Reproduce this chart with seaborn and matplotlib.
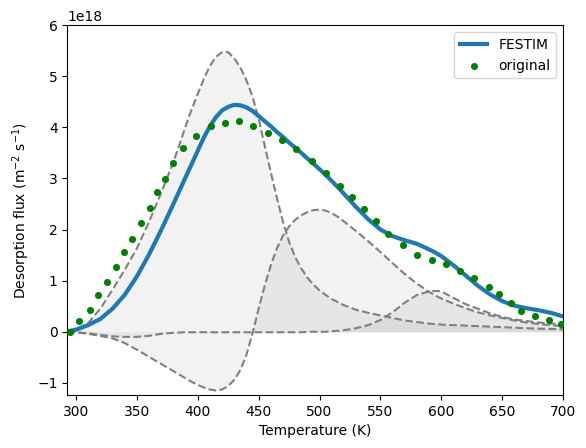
import numpy as np
import pandas as pd
import seaborn as sns
import matplotlib
matplotlib.use("Agg")
import matplotlib.pyplot as plt

# temperature grid for model curves (K), values below in units of 1e18
T_model = [293, 300, 310, 320, 330, 340, 350, 360, 370,
           380, 385, 390, 395, 400, 405, 410, 415, 420, 425, 430, 435, 440, 445, 450,
           455, 460, 465, 470, 475, 480, 485, 490, 495, 500, 505, 510, 515, 520,
           530, 540, 550, 560, 570, 580, 590, 595, 600, 610, 620, 630, 640, 650,
           660, 670, 680, 690, 700]

festim = [0.01, 0.04, 0.13, 0.25, 0.45, 0.72, 1.08, 1.51, 1.99,
          2.50, 2.76, 3.02, 3.28, 3.54, 3.80, 4.02, 4.20, 4.33, 4.40, 4.44, 4.43, 4.39, 4.32, 4.22,
          4.12, 4.02, 3.91, 3.81, 3.70, 3.60, 3.50, 3.39, 3.29, 3.18, 3.07, 2.95, 2.83, 2.70,
          2.44, 2.20, 2.00, 1.87, 1.79, 1.72, 1.61, 1.55, 1.48, 1.30, 1.10, 0.90, 0.73, 0.60,
          0.51, 0.46, 0.42, 0.37, 0.30]

peak_1 = [0.0, 0.03, 0.17, 0.45, 0.82, 1.21, 1.63, 2.15, 2.72,
          3.32, 3.66, 4.02, 4.35, 4.65, 4.95, 5.20, 5.38, 5.47, 5.47, 5.35, 5.17, 4.92, 4.60, 4.17,
          3.64, 3.12, 2.62, 2.15, 1.76, 1.46, 1.24, 1.06, 0.92, 0.81, 0.72, 0.64, 0.58, 0.52,
          0.43, 0.37, 0.32, 0.27, 0.22, 0.19, 0.16, 0.15, 0.14, 0.13, 0.12, 0.11, 0.10, 0.09,
          0.08, 0.07, 0.06, 0.055, 0.05]

peak_2 = [0.0, -0.01, -0.04, -0.08, -0.13, -0.22, -0.35, -0.49, -0.63,
          -0.77, -0.84, -0.91, -0.98, -1.04, -1.09, -1.13, -1.15, -1.13, -1.06, -0.94, -0.75, -0.45, -0.03, 0.45,
          0.90, 1.30, 1.63, 1.88, 2.06, 2.19, 2.28, 2.34, 2.38, 2.39, 2.37, 2.32, 2.25, 2.16,
          1.97, 1.77, 1.56, 1.34, 1.13, 0.94, 0.78, 0.71, 0.65, 0.55, 0.46, 0.38, 0.32, 0.27,
          0.22, 0.18, 0.15, 0.13, 0.11]

peak_3 = [0.0, -0.01, -0.03, -0.06, -0.09, -0.10, -0.10, -0.08, -0.04,
          -0.02, -0.015, -0.01, -0.01, -0.01, -0.01, -0.01, -0.01, -0.01, -0.01, -0.01, -0.01, -0.01, -0.01, -0.01,
          -0.01, -0.01, -0.01, -0.01, -0.01, -0.01, -0.01, 0.0, 0.0, 0.0, 0.0, 0.01, 0.02, 0.03,
          0.07, 0.13, 0.23, 0.38, 0.57, 0.72, 0.79, 0.80, 0.79, 0.66, 0.54, 0.45, 0.36, 0.29,
          0.24, 0.21, 0.18, 0.16, 0.15]

# experimental points
T_exp = [295, 302.5, 311.5, 318, 325.5, 333, 339.5, 346, 353.5, 361, 366.5, 373, 380, 388, 398.5,
         410.5, 422, 434, 445.5, 457.5, 469, 481, 493.5, 505, 516.5, 526.5, 536.5, 546, 556.5,
         568.5, 580, 592, 603.5, 615.5, 627, 639, 647, 657, 665.5, 677, 688, 698]
flux_exp = [0.0, 0.21, 0.42, 0.72, 0.97, 1.27, 1.56, 1.81, 2.13, 2.42, 2.73, 2.99, 3.30, 3.60, 3.83,
            4.03, 4.09, 4.13, 4.03, 3.89, 3.75, 3.58, 3.35, 3.10, 2.86, 2.63, 2.40, 2.16, 1.91,
            1.69, 1.50, 1.40, 1.33, 1.18, 1.05, 0.87, 0.74, 0.57, 0.41, 0.31, 0.23, 0.16]

scale = 1e18
df_model = pd.DataFrame({"T": T_model, "FESTIM": np.array(festim) * scale})
df_exp = pd.DataFrame({"T": T_exp, "flux": np.array(flux_exp) * scale})

fig, ax = plt.subplots(figsize=(5.86, 4.48), dpi=100)
fig.subplots_adjust(left=0.115, right=0.961, top=0.944, bottom=0.118)

for peak in [peak_1, peak_2, peak_3]:
    y = np.array(peak) * scale
    ax.fill_between(T_model, 0, y, color="grey", alpha=0.1, linewidth=0)
    sns.lineplot(x=T_model, y=y, ax=ax, color="grey", linestyle="--", legend=False)

sns.lineplot(data=df_model, x="T", y="FESTIM", ax=ax, color="tab:blue", linewidth=3, label="FESTIM")
sns.scatterplot(data=df_exp, x="T", y="flux", ax=ax, color="green", s=26, linewidth=0,
                label="original", zorder=3)

ax.set_xlim(293, 700)
ax.set_ylim(-1.24e18, 6e18)
ax.set_xlabel("Temperature (K)")
ax.set_ylabel("Desorption flux (m$^{-2}$ s$^{-1}$)")
ax.legend(loc="upper right")

plt.savefig("out.png", dpi=100)
